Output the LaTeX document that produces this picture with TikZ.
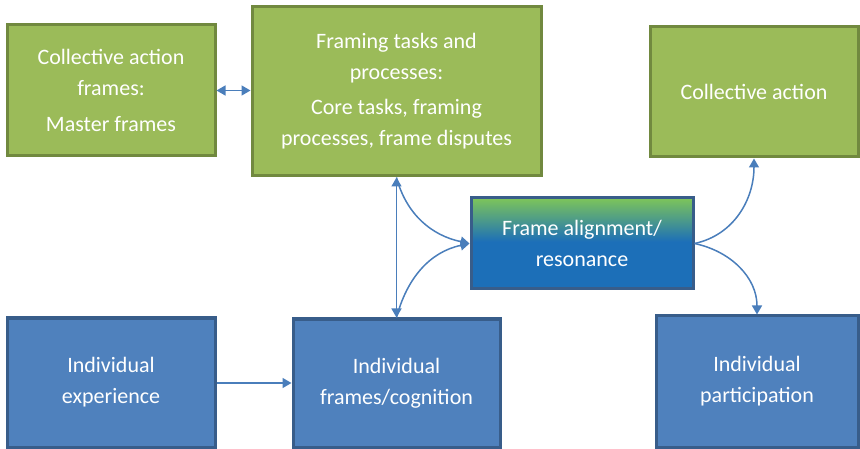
\documentclass[tikz,border=0pt]{standalone}
\usepackage{fontspec}
\setmainfont{Carlito}
\usetikzlibrary{arrows.meta}
\definecolor{gfill}{HTML}{9BBB59}
\definecolor{gline}{HTML}{71893F}
\definecolor{bfill}{HTML}{4F81BD}
\definecolor{bline}{HTML}{385D8A}
\definecolor{arr}{HTML}{4A7EBB}
\definecolor{fagreen}{HTML}{7DC55A}
\definecolor{fablue}{HTML}{1C6FB8}
\pgfdeclareverticalshading{fashade}{100bp}{color(0bp)=(fablue); color(51bp)=(fablue); color(75bp)=(fagreen); color(100bp)=(fagreen)}
\begin{document}
\begin{tikzpicture}[x=1pt,y=-1pt,
 box/.style={rectangle, line width=3pt, text=white, align=center, font=\fontsize{22}{31}\selectfont, inner sep=0pt},
 gbox/.style={box, draw=gline, fill=gfill},
 bbox/.style={box, draw=bline, fill=bfill},
 conn/.style={draw=arr, line width=1.5pt, -{Triangle[length=9pt,width=10pt]}},
 dconn/.style={conn, {Triangle[length=9pt,width=10pt]}-{Triangle[length=9pt,width=10pt]}}]
\useasboundingbox (0,0) rectangle (860,449);

\node[gbox, minimum width=208pt, minimum height=131pt] (caf) at (111,90.5)
  {Collective action\\frames:\\[5pt]Master frames};
\node[gbox, minimum width=289pt, minimum height=169pt] (ftp) at (396.5,91.5)
  {Framing tasks and\\processes:\\[4pt]Core tasks, framing\\processes, frame disputes};
\node[gbox, minimum width=208pt, minimum height=130pt] (ca) at (754,92)
  {Collective action};
\node[box, draw=bline, shading=fashade, minimum width=222pt, minimum height=91pt] (fa) at (582,243.5)
  {Frame alignment/\\resonance};
\node[bbox, minimum width=208pt, minimum height=129pt] (exp) at (111,382.5)
  {Individual\\experience};
\node[bbox, minimum width=207pt, minimum height=128pt] (ifc) at (396.5,383)
  {Individual\\frames/cognition};
\node[bbox, minimum width=202pt, minimum height=131pt] (ip) at (757,381.5)
  {Individual\\participation};

\draw[dconn] (caf.east) -- (ftp.west |- caf.east);
\draw[dconn] (ftp.south) -- (ifc.north);
\draw[conn] (ftp.south) to[out=-75, in=168] (fa.west);
\draw[conn] (ifc.north) to[out=75, in=192] (fa.west);
\draw[conn] (exp.east |- ifc.west) -- (ifc.west);
\draw[conn] (fa.east) to[out=12, in=-90] (ca.south);
\draw[conn] (fa.east) to[out=-12, in=90] (ip.north);
\end{tikzpicture}
\end{document}
